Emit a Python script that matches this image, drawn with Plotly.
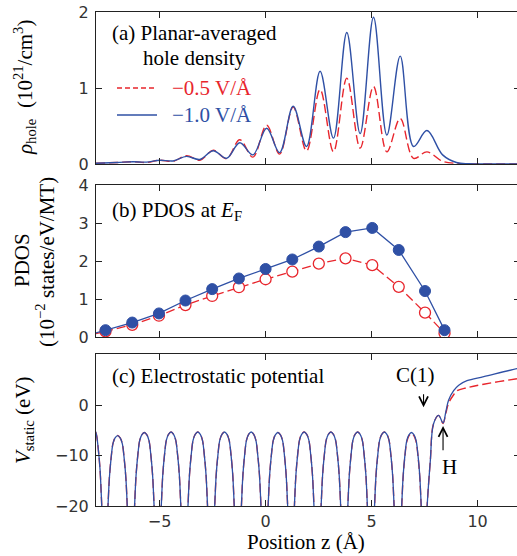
import plotly.graph_objects as go

RED = "#e8262d"
BLUE = "#2f50a5"
SERIF = "Liberation Serif"
SANS = "DejaVu Sans"

# ---------------- Panel (a): planar-averaged hole density ----------------
z_hole = [-8.0, -7.0, -6.25, -5.62, -4.99, -4.36, -3.73, -3.1, -2.47, -1.84, -1.22, -0.6,
          0.05, 0.66, 1.3, 1.93, 2.57, 3.2, 3.83, 4.46, 5.09, 5.72, 6.35, 6.98, 7.61,
          8.35, 9.0, 9.6, 10.5, 12.0]
rho_blue = [0.01, 0.02, 0.03, 0.025, 0.05, 0.04, 0.10, 0.06, 0.175, 0.075, 0.28, 0.12,
            0.47, 0.15, 0.76, 0.23, 1.22, 0.34, 1.73, 0.40, 1.93, 0.38, 1.42, 0.23, 0.44,
            0.12, 0.02, 0.004, 0.0, 0.0]
rho_red = [0.01, 0.02, 0.03, 0.02, 0.05, 0.035, 0.11, 0.05, 0.18, 0.07, 0.32, 0.09,
           0.51, 0.13, 0.75, 0.17, 0.98, 0.16, 1.13, 0.21, 1.02, 0.16, 0.60, 0.075, 0.16,
           0.035, 0.008, 0.0, 0.0, 0.0]
legend_labels = ["\u22120.5 V/\u00c5", "\u22121.0 V/\u00c5"]

# ---------------- Panel (b): PDOS at E_F ----------------
z_atoms = [-8.81, -7.55, -6.29, -5.03, -3.78, -2.52, -1.26, 0.0, 1.26, 2.51, 3.77, 5.03,
           6.28, 7.52, 8.44]
pdos_blue = [-0.02, 0.18, 0.38, 0.62, 0.96, 1.26, 1.54, 1.79, 2.04, 2.38, 2.76, 2.87,
             2.29, 1.21, 0.18]
pdos_red = [-0.02, 0.15, 0.32, 0.56, 0.84, 1.08, 1.31, 1.52, 1.72, 1.93, 2.07, 1.89,
            1.32, 0.64, 0.10]

# ---------------- Panel (c): electrostatic potential ----------------
arch_centers = [-8.2, -6.98, -5.72, -4.46, -3.2, -1.94, -0.68, 0.58, 1.82, 3.08, 4.34,
                5.6, 6.88]
arch_peaks_blue = [-4.2, -6.0, -5.4, -5.3, -5.3, -5.3, -5.3, -5.4, -5.3, -5.3, -5.3, -5.3, -5.4]
arch_peaks_red = [-4.2, -6.0, -5.4, -5.3, -5.3, -5.3, -5.3, -5.4, -5.3, -5.3, -5.3, -5.3, -5.6]
arch_dz = [-0.56, -0.46, -0.39, -0.31, -0.22, -0.12, 0.0, 0.12, 0.22, 0.31, 0.39, 0.46, 0.56]
arch_dv = [-24.0, -14.6, -8.5, -4.6, -1.6, -0.45, 0.0, -0.45, -1.6, -4.6, -8.5, -14.6, -24.0]

surf_z_blue = [7.52, 7.62, 7.77, 7.92, 8.16, 8.37, 8.5, 8.63, 8.87, 9.11, 9.5, 10.29, 11.87, 12.0]
surf_v_blue = [-30.0, -20.0, -11.0, -3.7, -2.0, -3.5, -1.3, 1.0, 2.9, 4.0, 4.9, 5.7, 7.3, 7.4]
surf_z_red = [7.52, 7.62, 7.77, 7.92, 8.16, 8.37, 8.5, 8.63, 8.87, 9.03, 9.5, 10.29, 11.87, 12.0]
surf_v_red = [-30.0, -20.0, -11.0, -3.7, -2.0, -3.6, -1.6, 0.4, 2.1, 2.9, 3.5, 4.2, 5.3, 5.4]


def build_potential(peaks, sz, sv):
    zs, vs = [], []
    for c, p in zip(arch_centers, peaks):
        for dz, dv in zip(arch_dz, arch_dv):
            zs.append(c + dz)
            vs.append(p + dv)
    return zs + sz, vs + sv


zc_blue, vc_blue = build_potential(arch_peaks_blue, surf_z_blue, surf_v_blue)
zc_red, vc_red = build_potential(arch_peaks_red, surf_z_red, surf_v_red)

# ---------------- Layout geometry (window pixels; body margin removed) ----------------
# the figure is 4px wider than the window so the right frame is cropped, as in the reference
W, H = 521, 556
ML, MR, MT, MB = 96, 1, 12, 50
PW, PH = W - ML - MR, H - MT - MB


def px(wx):  # window pixel x -> paper x
    return (wx - ML) / PW


def py(wy):  # window pixel y -> paper y
    return (H - MB - wy) / PH


XR = [-8.0, 12.0]
dom_a = [py(164), 1.0]
dom_b = [py(337), py(185)]
dom_c = [0.0, py(354)]

fig = go.Figure()

dash_red = "9px,4px"

fig.add_trace(go.Scatter(x=z_hole, y=rho_red, mode="lines",
                         line=dict(color=RED, width=1.4, dash=dash_red, shape="spline"),
                         name=legend_labels[0], xaxis="x", yaxis="y", showlegend=False))
fig.add_trace(go.Scatter(x=z_hole, y=rho_blue, mode="lines",
                         line=dict(color=BLUE, width=1.4, shape="spline"),
                         name=legend_labels[1], xaxis="x", yaxis="y", showlegend=False))

fig.add_trace(go.Scatter(x=z_atoms, y=pdos_red, mode="lines+markers",
                         line=dict(color=RED, width=1.3, dash=dash_red),
                         marker=dict(symbol="circle", size=11, color="white", line=dict(color=RED, width=1.3)),
                         name=legend_labels[0], xaxis="x2", yaxis="y2", showlegend=False))
fig.add_trace(go.Scatter(x=z_atoms, y=pdos_blue, mode="lines+markers",
                         line=dict(color=BLUE, width=1.3),
                         marker=dict(symbol="circle", size=11, color=BLUE, line=dict(color=BLUE, width=1)),
                         name=legend_labels[1], xaxis="x2", yaxis="y2", showlegend=False))

fig.add_trace(go.Scatter(x=zc_red, y=vc_red, mode="lines",
                         line=dict(color=RED, width=1.4, dash=dash_red, shape="spline"),
                         name=legend_labels[0], xaxis="x3", yaxis="y3", showlegend=False))
fig.add_trace(go.Scatter(x=zc_blue, y=vc_blue, mode="lines",
                         line=dict(color=BLUE, width=1.3, shape="spline"),
                         name=legend_labels[1], xaxis="x3", yaxis="y3", showlegend=False))

tickfont = dict(family=SANS, size=16, color="#333333")
xtickvals = [-5, 0, 5, 10]
xticktext = ["\u22125", "0", "5", "10"]


def xax(anchor, labels):
    return dict(range=XR, domain=[0, 1], anchor=anchor, tickvals=xtickvals, ticktext=xticktext,
                ticks="inside", ticklen=6, tickwidth=1, tickcolor="#222", showline=True, linecolor="#222",
                linewidth=1, mirror="ticks", showgrid=False, zeroline=False, showticklabels=labels,
                tickfont=tickfont, ticklabelstandoff=1, automargin=False, ticklabeloverflow="allow")


def yax(anchor, dom, rng, vals, texts):
    return dict(range=rng, domain=dom, anchor=anchor, tickvals=vals, ticktext=texts, ticks="inside",
                ticklen=6, tickwidth=1, tickcolor="#222", showline=True, linecolor="#222", linewidth=1,
                mirror="ticks", showgrid=False, zeroline=False, tickfont=tickfont, ticklabelstandoff=3,
                automargin=False, ticklabeloverflow="allow")


ya_vals = [0, 1, 2]
yb_vals = [0, 1, 2, 3, 4]
yc_vals = [-20, -10, 0]

fig.update_layout(
    width=W, height=H, margin=dict(l=ML, r=MR, t=MT, b=MB, autoexpand=False),
    paper_bgcolor="white", plot_bgcolor="white",
    xaxis=xax("y", False),
    xaxis2=xax("y2", False),
    xaxis3=xax("y3", True),
    yaxis=yax("x", dom_a, [0, 2], ya_vals, [str(v) for v in ya_vals]),
    yaxis2=yax("x2", dom_b, [0, 4], yb_vals, [str(v) for v in yb_vals]),
    yaxis3=yax("x3", dom_c, [-20, 10.2], yc_vals, ["\u221220", "\u221210", "0"]),
    showlegend=False,
)

ann_font = dict(family=SERIF, size=21, color="black")
annotations = [
    dict(text="(a) Planar-averaged", x=px(110), y=py(33), xanchor="left", yanchor="middle"),
    dict(text="hole density", x=px(194), y=py(58), xanchor="center", yanchor="middle"),
    dict(text="(b) PDOS at <i>E</i><sub>F</sub>", x=px(110), y=py(211), xanchor="left", yanchor="middle"),
    dict(text="(c) Electrostatic potential", x=px(110), y=py(376), xanchor="left", yanchor="middle"),
    dict(text="<i>\u03c1</i><sub>hole</sub>  (10<sup>21</sup>/cm<sup>3</sup>)", x=px(24), y=py(88),
         xanchor="center", yanchor="middle", textangle=-90),
    dict(text="PDOS", x=px(22), y=py(260), xanchor="center", yanchor="middle", textangle=-90),
    dict(text="(10<sup>\u22122</sup> states/eV/MT)", x=px(45), y=py(262), xanchor="center", yanchor="middle",
         textangle=-90),
    dict(text="<i>V</i><sub>static</sub> (eV)", x=px(24), y=py(420), xanchor="center", yanchor="middle",
         textangle=-90),
    dict(text="Position z (\u00c5)", x=px(306), y=py(542), xanchor="center", yanchor="middle"),
    dict(text=legend_labels[0], x=px(170), y=py(88), xanchor="left", yanchor="middle",
         font=dict(family=SERIF, size=21, color=RED)),
    dict(text=legend_labels[1], x=px(170), y=py(115), xanchor="left", yanchor="middle",
         font=dict(family=SERIF, size=21, color=BLUE)),
]
for a in annotations:
    a.setdefault("font", ann_font)
    a.update(xref="paper", yref="paper", showarrow=False)

# annotations in panel (c)
annotations += [
    dict(text="C(1)", x=7.08, y=6.0, xref="x3", yref="y3", showarrow=False, font=ann_font,
         xanchor="center", yanchor="middle"),
    dict(text="", x=7.45, y=-0.4, ax=7.45, ay=2.5, xref="x3", yref="y3", axref="x3", ayref="y3",
         showarrow=True, arrowhead=5, arrowsize=1.6, arrowwidth=1.1, arrowcolor="black"),
    dict(text="H", x=8.66, y=-12.3, xref="x3", yref="y3", showarrow=False, font=ann_font,
         xanchor="center", yanchor="middle"),
    dict(text="", x=8.37, y=-4.1, ax=8.37, ay=-9.2, xref="x3", yref="y3", axref="x3", ayref="y3",
         showarrow=True, arrowhead=5, arrowsize=1.6, arrowwidth=1.1, arrowcolor="black"),
]
fig.update_layout(annotations=annotations)

# legend keys for panel (a)
fig.update_layout(shapes=[
    dict(type="line", xref="paper", yref="paper", x0=px(117), x1=px(157), y0=py(88), y1=py(88),
         line=dict(color=RED, width=1.4, dash="5px,3px")),
    dict(type="line", xref="paper", yref="paper", x0=px(117), x1=px(157), y0=py(115), y1=py(115),
         line=dict(color=BLUE, width=1.6)),
])

fig.write_html("out.html", config={"displayModeBar": False},
               post_script="document.body.style.margin='0';document.body.style.overflow='hidden';"
                           "document.documentElement.style.overflow='hidden';")
